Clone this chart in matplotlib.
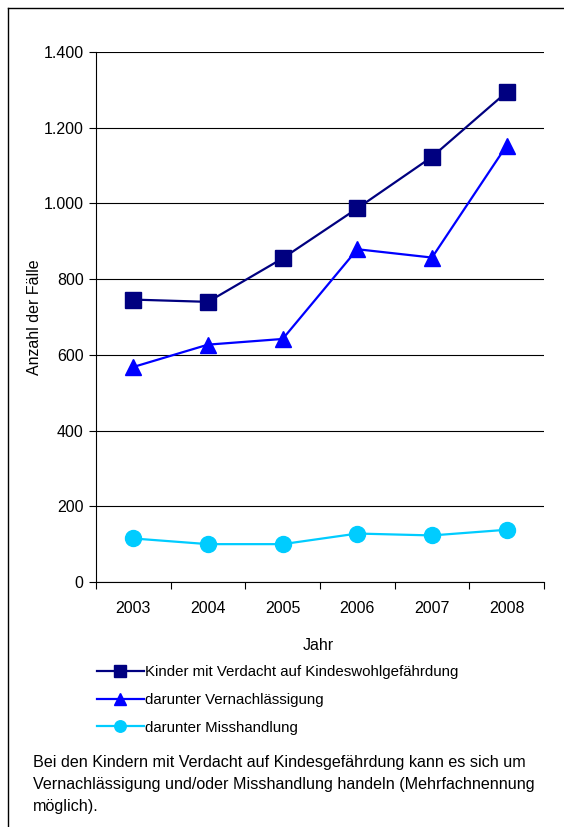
import matplotlib.pyplot as plt
from matplotlib.lines import Line2D
import numpy as np

plt.rcParams['font.family'] = ['Liberation Sans', 'DejaVu Sans']

jahre = ['2003', '2004', '2005', '2006', '2007', '2008']
verdacht = [746, 740, 855, 987, 1123, 1294]
vernachlaessigung = [568, 627, 642, 879, 857, 1153]
misshandlung = [115, 100, 100, 128, 123, 138]
yticks = [0, 200, 400, 600, 800, 1000, 1200, 1400]
ytick_labels = ['0', '200', '400', '600', '800', '1.000', '1.200', '1.400']

W, H = 564, 827
fig = plt.figure(figsize=(W / 100, H / 100), dpi=100)
ax = fig.add_axes([96 / W, 1 - 582 / H, (544 - 96) / W, (582 - 52) / H])

x = np.arange(len(jahre))
ax.plot(x, verdacht, color='#000080', lw=1.6, marker='s', ms=12, label='Kinder mit Verdacht auf Kindeswohlgefährdung')
ax.plot(x, vernachlaessigung, color='#0000FF', lw=1.6, marker='^', ms=12, label='darunter Vernachlässigung')
ax.plot(x, misshandlung, color='#00CCFF', lw=1.6, marker='o', ms=11.5, label='darunter Misshandlung')

ax.set_xlim(-0.5, len(jahre) - 0.5)
ax.set_ylim(0, 1400)
ax.set_yticks(yticks)
ax.set_yticklabels(ytick_labels)
ax.set_xticks(x)
ax.set_xticklabels(jahre)
ax.set_xticks(np.arange(len(jahre) + 1) - 0.5, minor=True)
ax.tick_params(axis='x', which='major', length=0, pad=14, labelsize=11.5)
ax.tick_params(axis='x', which='minor', length=5, width=0.8, direction='out')
ax.tick_params(axis='y', length=5, width=0.8, labelsize=11.5, pad=4)
ax.grid(axis='y', color='#000000', lw=0.8)
ax.set_axisbelow(True)
for s in ['top', 'right']:
    ax.spines[s].set_visible(False)
for s in ['left', 'bottom']:
    ax.spines[s].set_linewidth(0.8)

ax.set_ylabel('Anzahl der Fälle', fontsize=11.5, labelpad=1)
fig.text(318 / W, 1 - 645 / H, 'Jahr', ha='center', va='center', fontsize=11.5)

fig.legend(loc='upper left', bbox_to_anchor=(97 / W, 1 - 665 / H), frameon=False,
           fontsize=10.8, handlelength=3.1, handletextpad=0.1, labelspacing=0.92,
           markerscale=0.72, borderaxespad=0, borderpad=0)

fig.text(33 / W, 1 - 755 / H,
         'Bei den Kindern mit Verdacht auf Kindesgefährdung kann es sich um\n'
         'Vernachlässigung und/oder Misshandlung handeln (Mehrfachnennung\n'
         'möglich).', ha='left', va='top', fontsize=11.6, linespacing=1.6)

# Rahmen oben und links
fig.add_artist(Line2D([8 / W, 1], [1 - 8 / H, 1 - 8 / H], color='black', lw=1))
fig.add_artist(Line2D([8 / W, 8 / W], [1 - 8 / H, 0], color='black', lw=1))

fig.savefig('out.png', dpi=100)
